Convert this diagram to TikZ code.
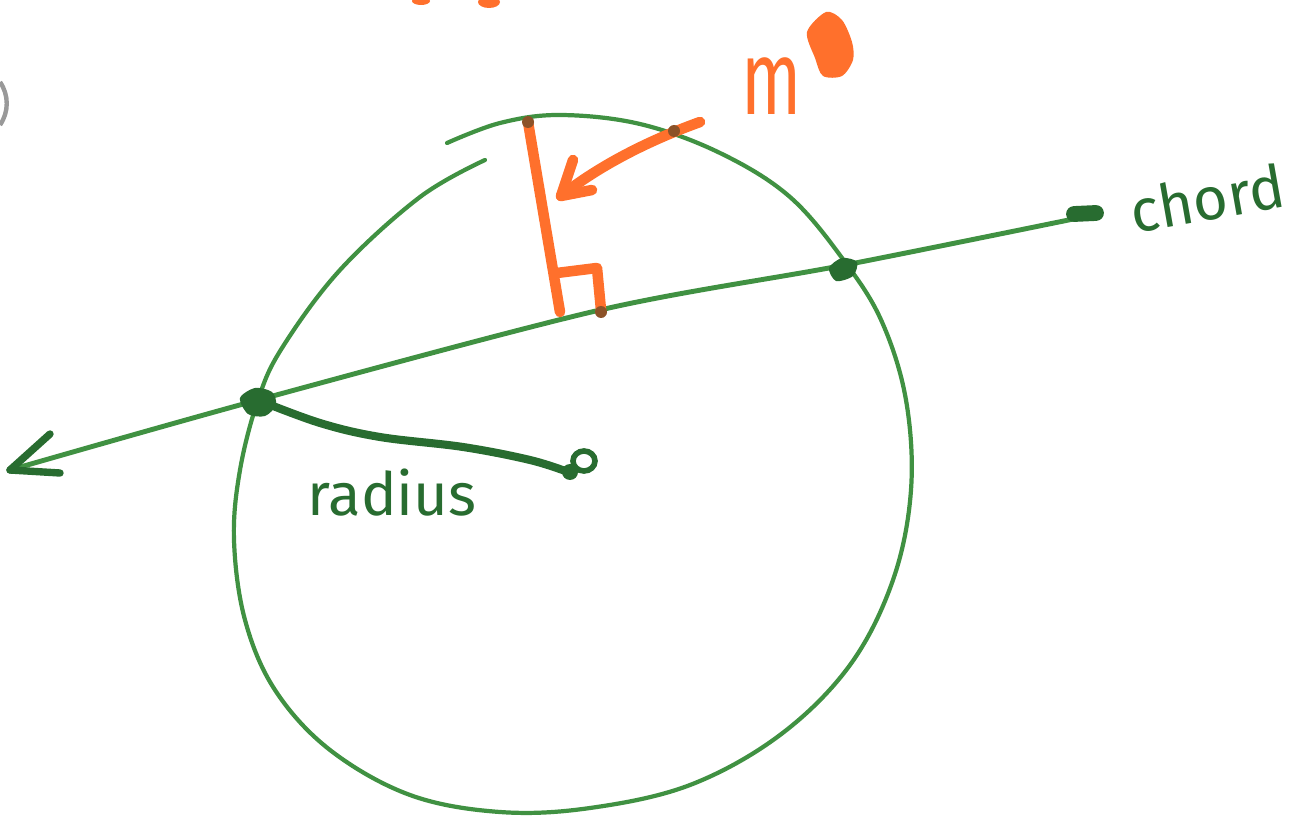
\documentclass[tikz,border=0pt]{standalone}
\usepackage{fontspec}
\setmainfont{Fira Sans}
\usetikzlibrary{arrows.meta}
\definecolor{pen}{RGB}{64,145,66}
\definecolor{dpen}{RGB}{40,108,48}
\definecolor{org}{RGB}{255,112,44}
\definecolor{brn}{RGB}{140,82,40}
\begin{document}
\begin{tikzpicture}[x=0.02cm,y=-0.02cm,
  circ/.style={draw=pen, line width=2.4pt, line cap=round},
  chordline/.style={draw=pen, line width=2.8pt, line cap=round},
  rad/.style={draw=dpen, line width=4.6pt, line cap=round},
  perp/.style={draw=org, line width=6pt, line cap=round, line join=round},
  lbl/.style={text=dpen, font=\fontsize{34}{34}\selectfont},
  blob/.style={fill=dpen},
  dot/.style={fill=brn}]
\useasboundingbox (0,0) rectangle (1306,824);
% points
\coordinate (A) at (258,400);
\coordinate (B) at (845,265);
\coordinate (O) at (584,461);
\coordinate (L) at (10,470);
\coordinate (R) at (1098,214);
\coordinate (T) at (528,122);
\coordinate (F) at (560,312);
% circle (two hand strokes)
\draw[circ] plot[smooth, tension=0.6] coordinates {(485,160) (420,197) (340,270) (282,348) (258,400) (240,470) (234,540) (245,620) (275,690) (330,750) (410,795) (500,812) (590,808) (690,785) (780,735) (850,665) (893,580) (911,490) (906,400) (882,322) (845,262) (790,197) (720,153) (640,124) (560,115) (500,123) (447,143)};
% chord line
\draw[chordline] plot[smooth, tension=0.5] coordinates {(L) (A) (600,310) (B) (R)};
\draw[line width=4.2pt, draw=dpen, line cap=round] (L) -- (50,434);
\draw[line width=4.2pt, draw=dpen, line cap=round] (L) -- (60,473);
\draw[line width=9pt, draw=dpen, line cap=round] (1074,214) -- (1096,213);
% blobs at intersections
\fill[blob] plot[smooth cycle] coordinates {(240,398) (255,388) (272,392) (276,405) (265,416) (248,414)};
\fill[blob] plot[smooth cycle] coordinates {(829,268) (842,258) (857,262) (853,276) (836,281)};
% radius
\draw[rad] plot[smooth, tension=0.6] coordinates {(A) (320,423) (380,437) (463,447) (530,460) (568,472)};
\draw[draw=dpen, line width=3.2pt] (O) circle[x radius=11, y radius=10];
\fill[blob] (570,472) circle[radius=8];
% perpendicular with right-angle mark
\draw[perp] (T) -- (F);
\draw[perp] (557,273) -- (597,268) -- (601,310);
\fill[dot] (T) circle[radius=6];
\fill[dot] (601,312) circle[radius=6];
% orange arrow
\coordinate (S) at (700,122);
\coordinate (P) at (561,196);
\draw[perp] (S) .. controls (650,140) and (600,165) .. (P);
\draw[perp] (P) -- (573,160);
\draw[perp] (P) -- (592,190);
\fill[dot] (674,131) circle[radius=6];
% labels
\node[lbl] (lradius) at (392,493) {radius};
\node[lbl, rotate=10] (lchord) at (1207,198) {chord};
\node[text=org, font=\fontsize{40}{40}\selectfont] (lm) at (772,86) {\scalebox{1}[1.5]{m}};
\fill[org] plot[smooth cycle] coordinates {(807,32) (826,12) (842,20) (852,42) (853,60) (842,76) (823,76) (815,58)};
% cut-off fragments at the edges
\fill[org] (421,1) ellipse[x radius=9, y radius=4];
\fill[org] (489,2) ellipse[x radius=11, y radius=6];
\draw[gray!80, line width=2.5pt] (0,82) .. controls (9,95) and (9,112) .. (0,125);
\end{tikzpicture}
\end{document}
